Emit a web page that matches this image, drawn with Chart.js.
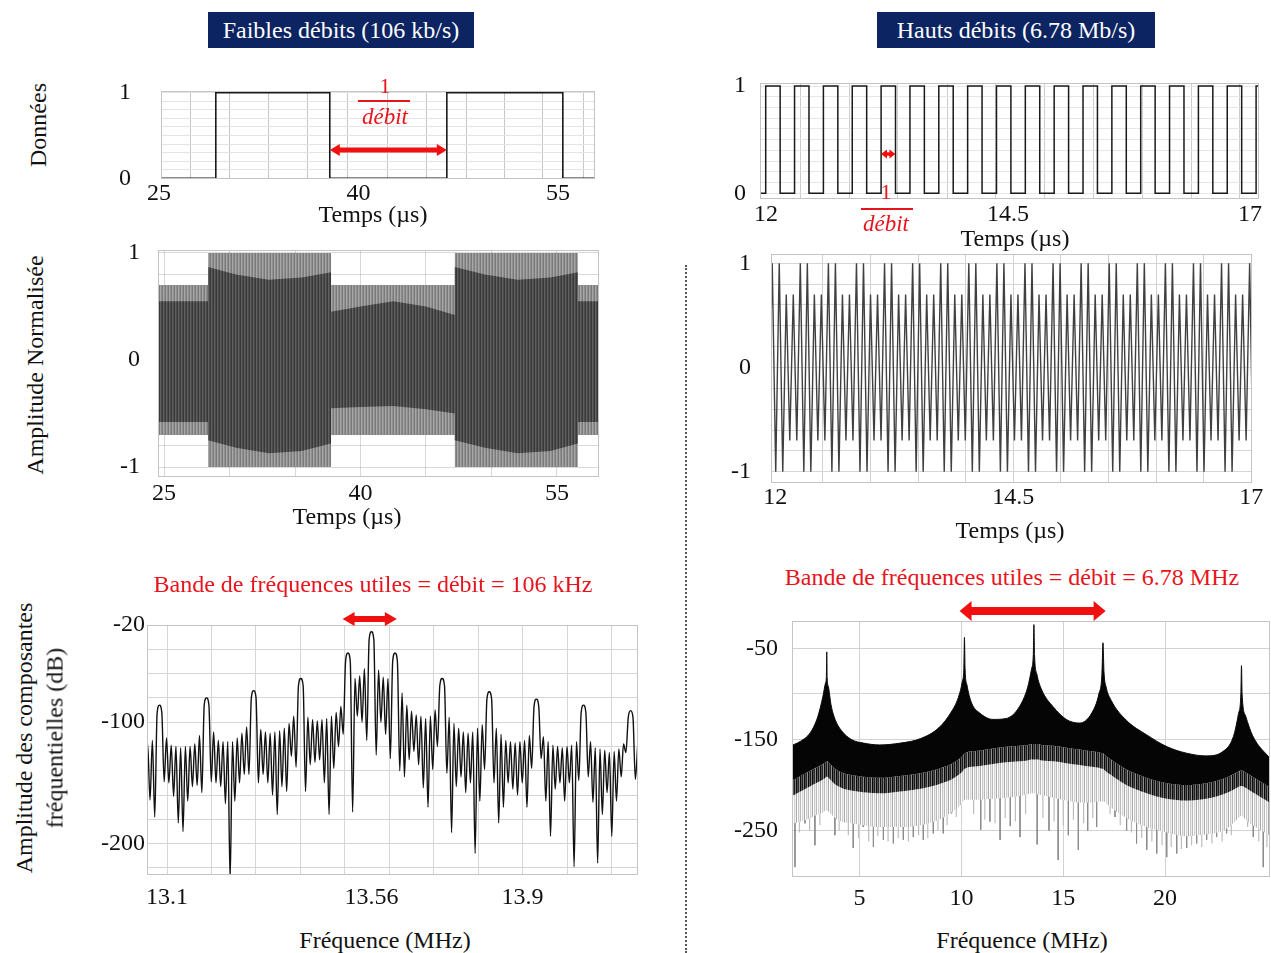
<!DOCTYPE html>
<html lang="fr">
<head>
<meta charset="utf-8">
<title>Faibles et hauts débits</title>
<script src="https://cdn.jsdelivr.net/npm/chart.js@4/dist/chart.umd.min.js"></script>
<style>
  html, body { margin: 0; padding: 0; background: #fff; }
  body { width: 1271px; height: 953px; position: relative; overflow: hidden;
         font-family: 'Liberation Serif', 'Times New Roman', serif; color: #111; }
  canvas { position: absolute; z-index: 1; }
  .title { position: absolute; z-index: 2; background: #0c2461; color: #fff; font-size: 24px;
           display: flex; align-items: center; justify-content: center; }
  .lbl { position: absolute; z-index: 2; font-size: 24px; white-space: nowrap; transform: translate(-50%, -50%); }
  .rot { transform: translate(-50%, -50%) rotate(-90deg); }
  .red { color: #e8141c; }
  .it { font-style: italic; font-size: 23px; }
  .bar { position: absolute; z-index: 2; height: 1.5px; background: #e8141c; }
  .sep { position: absolute; left: 685px; top: 265px; height: 688px; border-left: 2px dotted #555; }
</style>
</head>
<body>
<div class="title" style="left:208px;top:12px;width:266px;height:36px">Faibles débits (106 kb/s)</div>
<div class="title" style="left:877px;top:12px;width:278px;height:36px">Hauts débits (6.78 Mb/s)</div>

<div class="lbl rot" style="left:38px;top:125px">Données</div>
<div class="lbl rot" style="left:35px;top:365px">Amplitude Normalisée</div>
<div class="lbl rot" style="left:24px;top:738px">Amplitude des composantes</div>
<div class="lbl rot" style="left:55px;top:738px">fréquentielles (dB)</div>

<div class="lbl" style="left:373px;top:214px">Temps (µs)</div>
<div class="lbl" style="left:347px;top:516px">Temps (µs)</div>
<div class="lbl" style="left:1015px;top:238px">Temps (µs)</div>
<div class="lbl" style="left:1010px;top:530px">Temps (µs)</div>
<div class="lbl" style="left:385px;top:940px">Fréquence (MHz)</div>
<div class="lbl" style="left:1022px;top:940px">Fréquence (MHz)</div>

<div class="lbl red" style="left:373px;top:584px">Bande de fréquences utiles = débit = 106 kHz</div>
<div class="lbl red" style="left:1012px;top:577px">Bande de fréquences utiles = débit = 6.78 MHz</div>

<div class="lbl red" style="left:385px;top:86px;font-size:22px">1</div>
<div class="bar" style="left:358px;top:100px;width:52px"></div>
<div class="lbl red it" style="left:385px;top:117px">débit</div>

<div class="lbl red" style="left:886px;top:192px;font-size:22px">1</div>
<div class="bar" style="left:861px;top:208px;width:52px"></div>
<div class="lbl red it" style="left:886px;top:224px">débit</div>

<div class="sep"></div>

<script>
// ---------- left column : 106 kb/s ----------
// data bits (µs, level)
const lowBitTimes = [24, 29.27, 37.84, 46.64, 55.36, 59];
const lowBitLevels = [0, 1, 0, 1, 0, 0];

// modulated carrier, drawn as envelopes (outer band and darker core)
const lowEnvTimes = [24.4, 28.36, 28.36, 30.5, 33.0, 35.5, 37.75, 37.75, 40.0, 42.5, 45.0, 47.2, 47.2, 49.5, 52.0, 54.5, 56.6, 56.6, 58.4];
const lowEnvUpper = [0.7, 0.7, 1, 1, 1, 1, 1, 0.7, 0.7, 0.7, 0.7, 0.7, 1, 1, 1, 1, 1, 0.7, 0.7];
const lowEnvLower = [-0.7, -0.7, -1, -1, -1, -1, -1, -0.7, -0.7, -0.7, -0.7, -0.7, -1, -1, -1, -1, -1, -0.7, -0.7];
const lowCoreUpper = [0.55, 0.55, 0.87, 0.8, 0.75, 0.77, 0.82, 0.45, 0.5, 0.55, 0.5, 0.42, 0.87, 0.8, 0.75, 0.77, 0.82, 0.55, 0.55];
const lowCoreLower = [-0.58, -0.58, -0.75, -0.82, -0.87, -0.85, -0.78, -0.45, -0.44, -0.43, -0.46, -0.5, -0.75, -0.82, -0.87, -0.85, -0.78, -0.58, -0.58];

// spectrum, one sample every 5.3 kHz starting at 13.0512 MHz (dB)
const lowSpecStart = 13.0512;
const lowSpecStep = 0.0053;
const lowSpecDb = [
  -135, -118, -164, -115, -178, -93, -86, -92, -149, -113,
  -150, -119, -161, -120, -183, -121, -190, -120, -165, -120,
  -153, -118, -152, -111, -158, -86, -80, -86, -149, -108,
  -150, -115, -153, -116, -167, -116, -230, -116, -165, -113,
  -150, -109, -143, -104, -143, -80, -74, -80, -150, -106,
  -143, -108, -150, -109, -160, -108, -176, -107, -153, -105,
  -157, -101, -128, -95, -137, -70, -64, -70, -157, -96,
  -135, -98, -133, -99, -131, -98, -150, -97, -176, -95,
  -138, -92, -120, -87, -110, -50, -43, -50, -174, -64,
  -95, -62, -100, -56, -115, -32, -25.5, -32, -127, -57,
  -100, -63, -110, -64, -130, -50, -43, -50, -140, -76,
  -145, -86, -131, -91, -124, -94, -135, -95, -154, -97,
  -170, -95, -139, -90, -120, -70, -64, -70, -142, -96,
  -191, -101, -153, -105, -145, -108, -158, -109, -150, -108,
  -208, -105, -165, -102, -139, -81, -75, -81, -150, -105,
  -183, -110, -170, -115, -150, -116, -155, -117, -160, -116,
  -150, -115, -170, -111, -138, -87, -81, -87, -130, -112,
  -165, -116, -194, -119, -155, -120, -150, -121, -165, -120,
  -150, -119, -219, -116, -148, -92, -86, -92, -145, -116,
  -166, -121, -216, -122, -176, -123, -158, -125, -194, -124,
  -165, -122, -145, -118, -125, -96, -90.5, -96, -147, -119,
];

// ---------- right column : 6.78 Mb/s ----------
const highBitStart = 11.848;
const highBitPeriod = 0.149;
const highBits = [0, 1, 0, 1, 0, 1, 0, 1, 0, 1, 0, 1, 0, 1, 0, 1, 0, 1, 0,
  1, 0, 1, 0, 1, 0, 1, 0, 1, 0, 1, 0, 1, 0, 1, 0, 1, 0];

// carrier extremes, one every half period of 13.56 MHz
const highCarrierStart = 11.931;
const highHalfPeriod = 0.03687;
const highCarrierPeaks = [
  -0.7,
  1, -1, 1, -1, 0.7, -0.7, 0.7, -0.7,
  1, -1, 1, -1, 0.7, -0.7, 0.7, -0.7,
  1, -1, 1, -1, 0.7, -0.7, 0.7, -0.7,
  1, -1, 1, -1, 0.7, -0.7, 0.7, -0.7,
  1, -1, 1, -1, 0.7, -0.7, 0.7, -0.7,
  1, -1, 1, -1, 0.7, -0.7, 0.7, -0.7,
  1, -1, 1, -1, 0.7, -0.7, 0.7, -0.7,
  1, -1, 1, -1, 0.7, -0.7, 0.7, -0.7,
  1, -1, 1, -1, 0.7, -0.7, 0.7, -0.7,
  1, -1, 1, -1, 0.7, -0.7, 0.7, -0.7,
  1, -1, 1, -1, 0.7, -0.7, 0.7, -0.7,
  1, -1, 1, -1, 0.7, -0.7, 0.7, -0.7,
  1, -1, 1, -1, 0.7, -0.7, 0.7, -0.7,
  1, -1, 1, -1, 0.7, -0.7, 0.7, -0.7,
  1, -1, 1, -1, 0.7, -0.7, 0.7, -0.7,
  1, -1, 1, -1, 0.7, -0.7, 0.7, -0.7,
  1, -1, 1, -1, 0.7, -0.7, 0.7, -0.7,
  1, -1,
];

// spectrum: top of the black band, its lower edge, the dark striped zone, the light grey fringe (dB)
const highSpecFreq = [1.5, 2.1, 2.6, 2.95, 3.2, 3.33, 3.37, 3.39, 3.41, 3.47, 3.6, 3.8, 4.1, 4.6, 5.2, 6.0, 7.0, 8.0, 8.9, 9.5,
  9.85, 10.05, 10.12, 10.15, 10.18, 10.27, 10.5, 10.9, 11.55, 12.2, 12.85, 13.25, 13.45, 13.53, 13.56, 13.59, 13.7, 13.95, 14.5, 15.15,
  15.8, 16.4, 16.75, 16.9, 16.95, 17.0, 17.1, 17.35, 18.1, 19.1, 20.1, 21.05, 22.0, 22.85, 23.35, 23.6, 23.72, 23.75, 23.78, 23.95,
  24.3, 25.2];
const highSpecTop = [-158, -152, -142, -125, -103, -88, -82, -54, -82, -92, -112, -128, -140, -150, -154, -156, -154, -149, -137, -120,
  -104, -86, -72, -38, -72, -90, -110, -121, -128, -127, -114, -93, -72, -57, -24, -57, -78, -96, -114, -128,
  -132, -121, -100, -78, -44, -76, -92, -107, -129, -145, -158, -165, -168, -163, -147, -122, -100, -69, -100, -124,
  -146, -172];
const highSpecCore = [-197, -190, -184, -180, -177, -175, -174, -174, -174, -175, -178, -182, -186, -189, -191, -192, -190, -187, -182, -177,
  -172, -168, -166, -165, -165, -164, -163, -162, -160, -158, -157, -156, -155, -155, -155, -155, -155, -156, -157, -159,
  -161, -163, -164, -165, -165, -166, -168, -172, -183, -192, -198, -200, -198, -193, -188, -185, -184, -184, -184, -186,
  -191, -203];
const highSpecMid = [-214, -207, -201, -197, -194, -192, -191, -191, -191, -192, -195, -199, -203, -206, -208, -209, -207, -204, -199, -194,
  -189, -185, -183, -182, -182, -181, -180, -179, -177, -175, -174, -173, -172, -172, -172, -172, -172, -173, -174, -176,
  -178, -180, -181, -182, -182, -183, -185, -189, -200, -209, -215, -217, -215, -210, -205, -202, -201, -201, -201, -203,
  -208, -220];
const highSpecFringe = [-244, -240, -236, -232, -230, -228, -228, -228, -228, -229, -232, -236, -240, -242, -244, -246, -246, -244, -238, -230,
  -224, -219, -217, -216, -216, -216, -216, -216, -215, -214, -212, -210, -209, -209, -209, -209, -210, -211, -214, -217,
  -219, -219, -218, -218, -218, -218, -220, -225, -236, -246, -252, -256, -254, -250, -242, -236, -234, -234, -234, -238,
  -244, -256];
// long grey spikes below the fringe
const highSpikeFreq = [1.83, 2.32, 2.81, 3.79, 4.2, 4.69, 5.18, 5.68, 6.17, 6.66, 7.15, 7.64, 8.13, 8.62, 9.11, 9.52,
  10.95, 11.4, 11.9, 12.4, 12.88, 13.72, 14.3, 14.75, 15.25, 15.74, 16.2, 16.64, 17.54, 18.11, 18.6, 19.1, 19.59,
  20.08, 20.57, 21.06, 21.55, 22.04, 22.53, 23.02, 24.33, 24.82];
const highSpikeDb = [-290, -242, -266, -255, -238, -269, -246, -268, -260, -264, -260, -257, -260, -253, -253, -231,
  -249, -240, -260, -245, -257, -265, -250, -282, -255, -271, -250, -246, -235, -250, -264, -271, -275,
  -279, -275, -269, -264, -260, -257, -253, -257, -290];
// shorter light grey spikes inside the fringe
const highShortFreq = [2.05, 2.55, 3.05, 4.0, 4.45, 4.95, 5.45, 5.9, 6.4, 6.9, 7.4, 7.9, 8.35, 8.85, 9.3, 9.75,
  10.6, 11.15, 11.65, 12.15, 12.65, 13.15, 14.0, 14.55, 15.0, 15.5, 16.0, 16.45, 17.3, 17.8, 18.35, 18.85,
  19.35, 19.85, 20.3, 20.8, 21.3, 21.8, 22.3, 22.8, 23.25, 24.05, 24.6, 25.0];
const highShortDb = [-252, -250, -244, -250, -255, -258, -262, -256, -262, -258, -262, -255, -258, -250, -244, -235,
  -232, -238, -242, -236, -240, -232, -236, -240, -244, -238, -242, -236, -232, -244, -252, -258,
  -262, -266, -268, -270, -266, -268, -264, -262, -255, -246, -262, -268];

// ---------- ticks and grid ----------
const ltGridX = [27.35, 30.3, 33.2, 36.15, 39.2, 42.2, 45.1, 48.1, 50.95, 53.8, 56.9];
const ltLabelsX = [25, 40, 55];
const tenthsY = [0, 0.1, 0.2, 0.3, 0.4, 0.5, 0.6, 0.7, 0.8, 0.9, 1];
const bitLabelsY = [0, 1];
const lmGridX = [25, 30, 35, 40, 45, 50, 55];
const lmLabelsX = [25, 40, 55];
const fifthsY = [-1, -0.8, -0.6, -0.4, -0.2, 0, 0.2, 0.4, 0.6, 0.8, 1];
const ampLabelsY = [-1, 0, 1];
const lbGridX = [13.1, 13.2, 13.3, 13.4, 13.5, 13.6, 13.7, 13.8, 13.9, 14.0, 14.1];
const lbLabelsX = [13.1, 13.56, 13.9];
const lbGridY = [-20, -40, -60, -80, -100, -120, -140, -160, -180, -200, -220];
const lbLabelsY = [-20, -100, -200];
const rtGridX = [12.353, 12.858, 13.363, 13.872, 14.37, 14.878, 15.383, 15.888, 16.397, 16.894];
const rLabelsX = [12, 14.5, 17];
const rmGridX = [12.5, 13, 13.5, 14, 14.5, 15, 15.5, 16, 16.5];
const rbGridX = [5, 10, 15, 20];
const rbGridY = [-50, -100, -150, -200, -250];
const rbLabelsY = [-50, -150, -250];

// ---------- helpers ----------
Chart.defaults.font.family = "'Liberation Serif', 'Times New Roman', serif";
Chart.defaults.color = '#111';
Chart.defaults.animation = false;

const pts = (xs, ys) => xs.map((x, i) => ({ x, y: ys[i] }));
const sampled = (x0, dx, ys) => ys.map((y, i) => ({ x: x0 + i * dx, y }));
const spikes = (fs, dbs, from) => fs.flatMap((f, i) => [{ x: f, y: from }, { x: f, y: dbs[i] }, { x: f, y: null }]);

function stripes(cols) {
  const c = document.createElement('canvas');
  c.width = cols.length;
  c.height = 1;
  const g = c.getContext('2d');
  cols.forEach((col, i) => { g.fillStyle = col; g.fillRect(i, 0, 1, 1); });
  return g.createPattern(c, 'repeat');
}

function axis(min, max, gridVals, labelVals, gridColor, padding, extra) {
  const all = [...new Set([...gridVals, ...labelVals])].sort((a, b) => a - b);
  return Object.assign({
    type: 'linear',
    min,
    max,
    afterBuildTicks: s => { s.ticks = all.map(v => ({ value: v })); },
    grid: {
      color: c => (c.tick && gridVals.includes(c.tick.value) ? gridColor : 'rgba(0,0,0,0)'),
      drawTicks: false,
    },
    border: { display: false },
    ticks: {
      autoSkip: false,
      maxRotation: 0,
      padding,
      font: { size: 24 },
      color: '#111',
      callback: v => (labelVals.includes(v) ? String(v) : ''),
    },
  }, extra || {});
}

const framePlugin = {
  id: 'frame',
  afterDatasetsDraw(chart, args, opts) {
    if (!opts.color) return;
    const { ctx, chartArea: a } = chart;
    ctx.save();
    ctx.strokeStyle = opts.color;
    ctx.lineWidth = 1;
    ctx.strokeRect(a.left + 0.5, a.top + 0.5, a.right - a.left - 1, a.bottom - a.top - 1);
    ctx.restore();
  },
};

const arrowPlugin = {
  id: 'redArrow',
  afterDraw(chart, args, opts) {
    if (opts.from === undefined) return;
    const { ctx, chartArea, scales } = chart;
    const x1 = scales.x.getPixelForValue(opts.from);
    const x2 = scales.x.getPixelForValue(opts.to);
    const y = opts.value !== undefined ? scales.y.getPixelForValue(opts.value) : chartArea.top - opts.above;
    const h = opts.head;
    const hw = opts.headHalf;
    const w = opts.thick / 2;
    ctx.save();
    ctx.fillStyle = '#f01010';
    ctx.beginPath();
    ctx.moveTo(x1, y);
    ctx.lineTo(x1 + h, y - hw);
    ctx.lineTo(x1 + h, y - w);
    ctx.lineTo(x2 - h, y - w);
    ctx.lineTo(x2 - h, y - hw);
    ctx.lineTo(x2, y);
    ctx.lineTo(x2 - h, y + hw);
    ctx.lineTo(x2 - h, y + w);
    ctx.lineTo(x1 + h, y + w);
    ctx.lineTo(x1 + h, y + hw);
    ctx.closePath();
    ctx.fill();
    ctx.restore();
  },
};

Chart.register(framePlugin, arrowPlugin);

function noOverflow(s) {
  s.paddingTop = 0;
  s.paddingBottom = 0;
  s.paddingLeft = 0;
  s.paddingRight = 0;
}

function makeChart(area, pad, config) {
  const W = area.r - area.l + pad.l + pad.r;
  const H = area.b - area.t + pad.t + pad.b;
  const canvas = document.createElement('canvas');
  canvas.width = W;
  canvas.height = H;
  canvas.style.left = (area.l - pad.l) + 'px';
  canvas.style.top = (area.t - pad.t) + 'px';
  canvas.style.width = W + 'px';
  canvas.style.height = H + 'px';
  document.body.appendChild(canvas);
  config.options.responsive = false;
  config.options.devicePixelRatio = 1;
  config.options.layout = { padding: { left: 0, top: pad.t, right: pad.r, bottom: 0 } };
  config.options.scales.x.afterFit = s => { s.height = pad.b; noOverflow(s); };
  config.options.scales.y.afterFit = s => { s.width = pad.l; noOverflow(s); };
  config.options.plugins = Object.assign({ legend: { display: false }, tooltip: { enabled: false } }, config.options.plugins);
  return new Chart(canvas, config);
}

const padTop = { l: 80, r: 12, t: 12, b: 45 };
const padBottom = { l: 80, r: 12, t: 30, b: 45 };

// ---------- left top : data bits ----------
makeChart({ l: 161, t: 91, r: 595, b: 179 }, padTop, {
  type: 'line',
  data: {
    datasets: [{
      data: pts(lowBitTimes, lowBitLevels),
      stepped: 'before',
      borderColor: '#1a1a1a',
      borderWidth: 1.6,
      pointRadius: 0,
    }],
  },
  options: {
    scales: {
      x: axis(25.15, 57.78, ltGridX, ltLabelsX, '#c6c6c6', 0),
      y: axis(-0.008, 1.02, tenthsY, bitLabelsY, '#e4e4e4', 30),
    },
    plugins: {
      frame: { color: '#c4c4c4' },
      redArrow: { from: 37.84, to: 46.64, value: 0.33, head: 10, headHalf: 6, thick: 5 },
    },
  },
});

// ---------- left middle : modulated carrier ----------
makeChart({ l: 158, t: 250, r: 599, b: 477 }, padTop, {
  type: 'line',
  data: {
    datasets: [
      { data: pts(lowEnvTimes, lowEnvUpper), fill: 1, backgroundColor: stripes(['#7b7b7b', '#a6a6a6', '#8f8f8f']), borderWidth: 0, pointRadius: 0, order: 1 },
      { data: pts(lowEnvTimes, lowEnvLower), borderWidth: 0, pointRadius: 0, order: 1 },
      { data: pts(lowEnvTimes, lowCoreUpper), fill: 3, backgroundColor: stripes(['#383838', '#606060', '#4a4a4a']), borderWidth: 0, pointRadius: 0, order: 0 },
      { data: pts(lowEnvTimes, lowCoreLower), borderWidth: 0, pointRadius: 0, order: 0 },
    ],
  },
  options: {
    scales: {
      x: axis(24.54, 58.21, lmGridX, lmLabelsX, 'rgba(0,0,0,0.15)', 2, { z: 1 }),
      y: axis(-1.093, 1.028, fifthsY, ampLabelsY, 'rgba(0,0,0,0.15)', 18, { z: 1 }),
    },
    plugins: { frame: { color: '#c4c4c4' } },
  },
});

// ---------- left bottom : spectrum ----------
makeChart({ l: 147, t: 625, r: 638, b: 875 }, padBottom, {
  type: 'line',
  data: {
    datasets: [{
      data: sampled(lowSpecStart, lowSpecStep, lowSpecDb),
      borderColor: '#111',
      borderWidth: 1.4,
      pointRadius: 0,
      cubicInterpolationMode: 'monotone',
    }],
  },
  options: {
    scales: {
      x: axis(13.055, 14.1596, lbGridX, lbLabelsX, '#d6d6d6', 8),
      y: axis(-225.8, -20, lbGridY, lbLabelsY, '#d6d6d6', 2),
    },
    plugins: {
      frame: { color: '#c4c4c4' },
      redArrow: { from: 13.495, to: 13.617, above: 6, head: 12, headHalf: 7, thick: 6 },
    },
  },
});

// ---------- right top : data bits ----------
makeChart({ l: 760, t: 83, r: 1259, b: 199 }, padTop, {
  type: 'line',
  data: {
    datasets: [{
      data: sampled(highBitStart, highBitPeriod, highBits),
      stepped: 'before',
      borderColor: '#1a1a1a',
      borderWidth: 1.5,
      pointRadius: 0,
    }],
  },
  options: {
    scales: {
      x: axis(11.938, 17.093, rtGridX, rLabelsX, '#cccccc', 1),
      y: axis(-0.053, 1.028, tenthsY, bitLabelsY, '#e6e6e6', 14),
    },
    plugins: {
      frame: { color: '#c4c4c4' },
      redArrow: { from: 13.188, to: 13.337, value: 0.366, head: 6, headHalf: 4.5, thick: 3.5 },
    },
  },
});

// ---------- right middle : modulated carrier ----------
makeChart({ l: 771, t: 254, r: 1252, b: 483 }, padTop, {
  type: 'line',
  data: {
    datasets: [{
      data: sampled(highCarrierStart, highHalfPeriod, highCarrierPeaks),
      borderColor: '#404040',
      borderWidth: 1.4,
      pointRadius: 0,
    }],
  },
  options: {
    scales: {
      x: axis(11.955, 17.007, rmGridX, rLabelsX, '#d0d0d0', 0),
      y: axis(-1.108, 1.089, fifthsY, ampLabelsY, '#d6d6d6', 20),
    },
    plugins: { frame: { color: '#c4c4c4' } },
  },
});

// ---------- right bottom : spectrum ----------
makeChart({ l: 792, t: 621, r: 1270, b: 877 }, { l: 80, r: 1, t: 30, b: 45 }, {
  type: 'line',
  data: {
    datasets: [
      { data: pts(highSpecFreq, highSpecTop), fill: 1, backgroundColor: '#050505', borderColor: '#0a0a0a', borderWidth: 1, pointRadius: 0, cubicInterpolationMode: 'monotone', order: 0 },
      { data: pts(highSpecFreq, highSpecCore), fill: 2, backgroundColor: stripes(['#080808', '#5a5a5a', '#1c1c1c', '#7a7a7a', '#101010', '#4a4a4a', '#2a2a2a', '#909090']), borderWidth: 0, pointRadius: 0, cubicInterpolationMode: 'monotone', order: 1 },
      { data: pts(highSpecFreq, highSpecMid), fill: 3, backgroundColor: stripes(['#b8b8b8', '#ffffff', '#d0d0d0', '#f2f2f2', '#a8a8a8', '#ffffff', '#c8c8c8', '#ececec']), borderWidth: 0, pointRadius: 0, cubicInterpolationMode: 'monotone', order: 2 },
      { data: pts(highSpecFreq, highSpecFringe), borderWidth: 0, pointRadius: 0, cubicInterpolationMode: 'monotone', order: 3 },
      { data: spikes(highShortFreq, highShortDb, -190), borderColor: '#bdbdbd', borderWidth: 1.2, pointRadius: 0, spanGaps: false, order: 4 },
      { data: spikes(highSpikeFreq, highSpikeDb, -190), borderColor: '#8c8c8c', borderWidth: 1, pointRadius: 0, spanGaps: false, order: 5 },
    ],
  },
  options: {
    scales: {
      x: axis(1.684, 25.15, rbGridX, rbGridX, '#d2d2d2', 7),
      y: axis(-300.8, -20.1, rbGridY, rbLabelsY, '#d2d2d2', 14),
    },
    plugins: {
      frame: { color: '#c4c4c4' },
      redArrow: { from: 9.91, to: 17.08, above: 10, head: 12, headHalf: 10, thick: 8 },
    },
  },
});
</script>
</body>
</html>
